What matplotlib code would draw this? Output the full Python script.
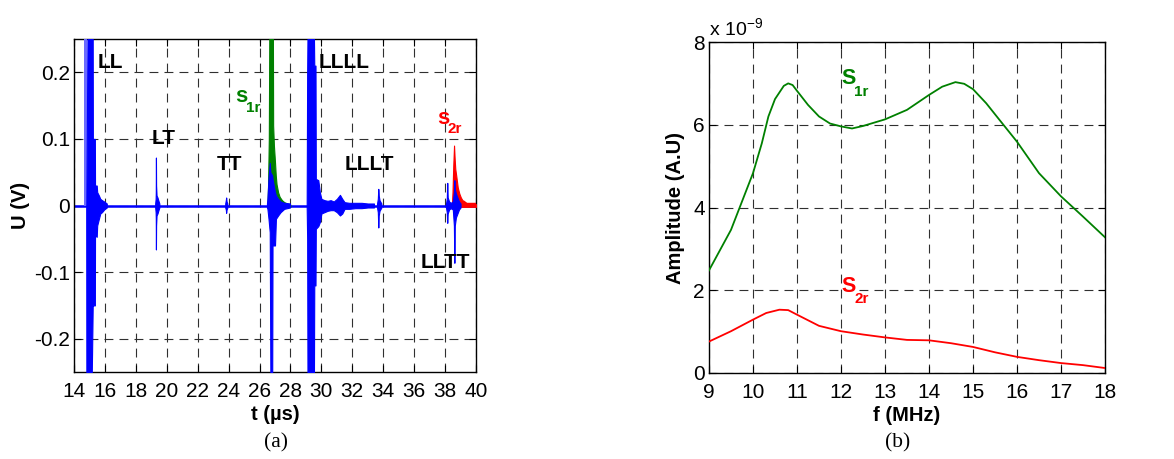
import matplotlib
matplotlib.use("Agg")
import matplotlib.pyplot as plt

plt.rcParams['font.family'] = ['Liberation Sans', 'DejaVu Sans']
plt.rcParams['mathtext.fontset'] = 'custom'
plt.rcParams['mathtext.rm'] = 'Liberation Sans'
plt.rcParams['mathtext.bf'] = 'Liberation Sans:bold'
plt.rcParams['mathtext.it'] = 'Liberation Sans:italic'
plt.rcParams['axes.unicode_minus'] = False

# ---------------- (a) time signal: envelopes ----------------
# light blue saturated band at the LL arrival
ll_light_t = [14.665, 14.87]
# wave packets: time (us), upper envelope (V), lower envelope (V)
ll_t  = [14.79, 14.80, 14.87, 15.15, 15.17, 15.21, 15.22, 15.35, 15.36, 15.47, 15.50, 15.61, 15.70, 15.81, 15.95, 16.12]
ll_up = [0.0,   0.0,   0.25,  0.25,  0.25,  0.25,  0.10,  0.10,  0.03,  0.03,  0.02,  0.015, 0.010, 0.008, 0.006, 0.003]
ll_lo = [0.0,  -0.25, -0.25, -0.25, -0.22, -0.15, -0.15, -0.15, -0.045,-0.047,-0.03, -0.02, -0.012,-0.010,-0.006,-0.003]

lt_t  = [19.25, 19.28, 19.29, 19.30, 19.31, 19.34, 19.40, 19.45, 19.52]
lt_up = [0.003, 0.010, 0.020, 0.072, 0.030, 0.015, 0.012, 0.008, 0.003]
lt_lo = [-0.003,-0.010,-0.020,-0.066,-0.030,-0.015,-0.012,-0.008,-0.003]

tt_t  = [23.78, 23.82, 23.84, 23.87, 23.92]
tt_up = [0.003, 0.008, 0.012, 0.006, 0.003]
tt_lo = [-0.003,-0.006,-0.011,-0.006,-0.003]

s1_t  = [26.48, 26.51, 26.58, 26.66, 26.70, 26.82, 26.84, 27.00, 27.06, 27.20, 27.36, 27.60, 27.97]
s1_up = [0.003, 0.010, 0.040, 0.064, 0.050, 0.045, 0.040, 0.020, 0.015, 0.010, 0.006, 0.004, 0.003]
s1_lo = [-0.003,-0.005,-0.020,-0.040,-0.25, -0.25, -0.060,-0.060,-0.020,-0.015,-0.010,-0.005,-0.003]

l4_t  = [29.05, 29.08, 29.10, 29.52, 29.54, 29.62, 29.64, 29.80, 29.90, 30.00, 30.20, 30.40, 30.60, 30.80, 31.00, 31.20, 31.35, 31.50, 31.80, 32.20, 32.60, 33.00, 33.40]
l4_up = [0.003, 0.20,  0.25,  0.25,  0.21,  0.21,  0.040, 0.038, 0.020, 0.010, 0.008, 0.007, 0.008, 0.006, 0.010, 0.016, 0.010, 0.005, 0.004, 0.004, 0.004, 0.003, 0.003]
l4_lo = [-0.003,-0.05, -0.25, -0.25, -0.12, -0.12, -0.035,-0.031,-0.025,-0.012,-0.010,-0.008,-0.007,-0.007,-0.010,-0.015,-0.012,-0.005,-0.005,-0.004,-0.004,-0.003,-0.003]

l3t_t  = [33.60, 33.65, 33.68, 33.71, 33.76, 33.88]
l3t_up = [0.003, 0.010, 0.025, 0.015, 0.008, 0.003]
l3t_lo = [-0.003,-0.010,-0.033,-0.015,-0.008,-0.003]

s2_t  = [38.06, 38.11, 38.14, 38.17, 38.26, 38.36, 38.50, 38.57, 38.60, 38.63, 38.70, 38.80, 38.90, 39.00]
s2_up = [0.003, 0.010, 0.034, 0.012, 0.006, 0.004, 0.006, 0.020, 0.038, 0.025, 0.018, 0.012, 0.006, 0.003]
s2_lo = [-0.003,-0.010,-0.026,-0.012,-0.006,-0.004,-0.006,-0.030,-0.086,-0.030,-0.018,-0.012,-0.006,-0.003]

# windowed echoes
green_t  = [26.51, 26.55, 26.60, 26.64, 26.86, 26.88, 26.93, 27.00, 27.05, 27.10, 27.20, 27.30, 27.45, 27.60, 27.80, 27.97, 28.00]
green_up = [0.0,   0.03,  0.10,  0.30,  0.30,  0.12,  0.09,  0.065, 0.045, 0.032, 0.020, 0.013, 0.008, 0.005, 0.003, 0.002, 0.0]
red_t  = [38.44, 38.48, 38.53, 38.58, 38.62, 38.66, 38.72, 38.82, 38.92, 39.02, 39.12, 39.22, 39.40, 40.00]
red_up = [0.0,   0.02,  0.06,  0.09,  0.07,  0.055, 0.045, 0.027, 0.018, 0.012, 0.008, 0.005, 0.002, 0.002]

t_ticks = list(range(14, 41, 2))
u_ticks = [-0.2, -0.1, 0, 0.1, 0.2]
u_ticklabels = ['-0.2', '-0.1', '0', '0.1', '0.2']

labels_a = ['LL', 'LT', 'TT', 'LLLL', 'LLLT', 'LLTT']
labels_a_t = [15.5, 19.0, 23.25, 29.85, 31.5, 36.4]
labels_a_u = [0.215, 0.10, 0.061, 0.214, 0.061, -0.086]

# ---------------- (b) spectra ----------------
f_s1 = [9.0, 9.5, 10.0, 10.2, 10.35, 10.5, 10.7, 10.8, 10.9, 11.0, 11.25, 11.5, 11.75, 12.0, 12.25, 12.5, 13.0, 13.5, 14.0, 14.3, 14.6, 14.8, 15.0, 15.3, 15.6, 16.0, 16.5, 17.0, 17.5, 18.0]
a_s1 = [2.48, 3.46, 4.83, 5.55, 6.20, 6.62, 6.94, 7.00, 6.96, 6.82, 6.48, 6.20, 6.03, 5.96, 5.91, 5.97, 6.13, 6.36, 6.72, 6.92, 7.03, 6.99, 6.86, 6.52, 6.12, 5.59, 4.83, 4.27, 3.78, 3.28]
f_s2 = [9.0, 9.5, 10.0, 10.3, 10.6, 10.8, 11.0, 11.5, 12.0, 12.5, 13.0, 13.5, 14.0, 14.5, 15.0, 15.5, 16.0, 16.5, 17.0, 17.5, 18.0]
a_s2 = [0.76, 1.01, 1.29, 1.45, 1.53, 1.52, 1.41, 1.14, 1.01, 0.93, 0.86, 0.80, 0.79, 0.72, 0.63, 0.50, 0.39, 0.31, 0.24, 0.19, 0.12]
f_ticks = list(range(9, 19))
a_ticks = [0, 2, 4, 6, 8]

BLUE = '#0000ff'
GREEN = '#008000'
RED = '#ff0000'

W, H = 1174, 459
fig = plt.figure(figsize=(W / 100, H / 100), dpi=100)

def style(ax):
    ax.grid(True, color='#303030', linestyle=(0, (8, 5.5)), linewidth=0.8)
    ax.set_axisbelow(True)
    ax.tick_params(direction='in', length=5, width=0.8, top=True, right=True,
                   labelsize=15, colors='black')
    ax.tick_params(axis='x', pad=7)
    ax.tick_params(axis='y', pad=3)
    for s in ax.spines.values():
        s.set_linewidth(1.0)
        s.set_color('black')

def sub_label(ax, x, y, xs, ys, main, sub, color, size, subsize):
    ax.text(x, y, main, color=color, fontsize=size, fontweight='bold', ha='left', va='center', zorder=6)
    ax.text(xs, ys, sub, color=color, fontsize=subsize, fontweight='bold', ha='left', va='center', zorder=6)

# ---- (a)
ax1 = fig.add_axes([74 / W, 1 - 372 / H, 402 / W, 333 / H])
style(ax1)
ax1.plot([14, 40], [0, 0], color=BLUE, lw=1.8, zorder=2, solid_capstyle='butt')
ax1.fill_between(green_t, [-0.002] * len(green_t), green_up, color=GREEN, lw=0.8, zorder=3)
ax1.fill_between(red_t, [-0.002] * len(red_t), red_up, color=RED, lw=0.8, zorder=3)
ax1.plot(red_t[-3:], red_up[-3:], color=RED, lw=2.0, zorder=5)
ax1.fill_between(ll_light_t, [0, 0], [0.3, 0.3], color='#6b6bff', lw=0, zorder=3)
for tt, up, lo in [(ll_t, ll_up, ll_lo), (lt_t, lt_up, lt_lo), (tt_t, tt_up, tt_lo),
                   (s1_t, s1_up, s1_lo), (l4_t, l4_up, l4_lo), (l3t_t, l3t_up, l3t_lo),
                   (s2_t, s2_up, s2_lo)]:
    ax1.fill_between(tt, lo, up, color=BLUE, lw=0.8, zorder=4)

ax1.set_xlim(14, 40)
ax1.set_ylim(-0.25, 0.25)
ax1.set_xticks(t_ticks)
ax1.set_yticks(u_ticks)
ax1.set_yticklabels(u_ticklabels)
ax1.set_xlabel('t (µs)', fontsize=14.5, fontweight='bold', labelpad=3)
ax1.set_ylabel('U (V)', fontsize=14.5, fontweight='bold', labelpad=3)
for lab, tx, uy in zip(labels_a, labels_a_t, labels_a_u):
    ax1.text(tx, uy, lab, fontsize=15, fontweight='bold', ha='left', va='center', zorder=6)
sub_label(ax1, 24.4, 0.163, 25.1, 0.146, 's', '1r', GREEN, 16, 11)
sub_label(ax1, 37.5, 0.131, 38.15, 0.115, 's', '2r', RED, 16, 11)

# ---- (b)
ax2 = fig.add_axes([709 / W, 1 - 373 / H, 396 / W, 331 / H])
style(ax2)
ax2.plot(f_s1, a_s1, color=GREEN, lw=1.3, zorder=3)
ax2.plot(f_s2, a_s2, color=RED, lw=1.3, zorder=3)
ax2.set_xlim(9, 18)
ax2.set_ylim(0, 8)
ax2.set_xticks(f_ticks)
ax2.set_yticks(a_ticks)
ax2.set_xlabel('f (MHz)', fontsize=14.5, fontweight='bold', labelpad=3)
ax2.set_ylabel('Amplitude (A.U)', fontsize=14.5, fontweight='bold', labelpad=6)
sub_label(ax2, 12.0, 7.11, 12.3, 6.79, 'S', '1r', GREEN, 15.5, 11)
sub_label(ax2, 12.0, 2.10, 12.3, 1.79, 'S', '2r', RED, 15.5, 11)
ax2.text(0.0, 1.01, r'x 10$^{\mathregular{-9}}$', transform=ax2.transAxes, fontsize=14,
         ha='left', va='bottom')

# captions
fig.text(276 / W, 1 - 443 / H, '(a)', family='Liberation Serif', fontsize=15.5, ha='center', va='center')
fig.text(898 / W, 1 - 443 / H, '(b)', family='Liberation Serif', fontsize=15.5, ha='center', va='center')

fig.savefig('out.png', dpi=100)
